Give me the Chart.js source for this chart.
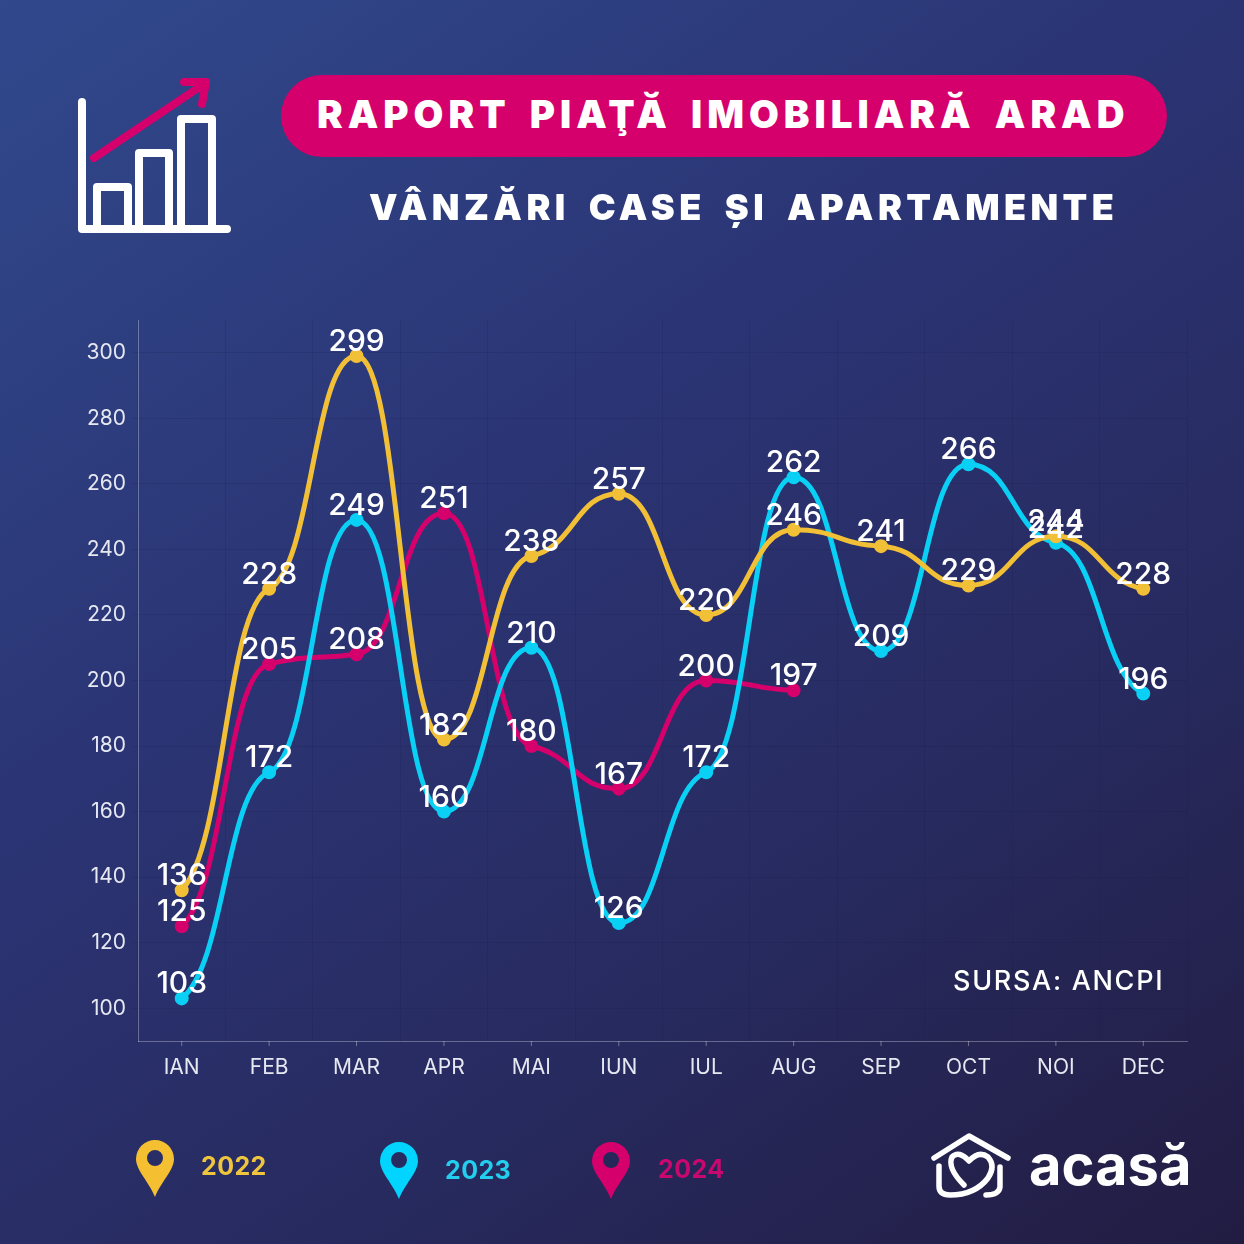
<!DOCTYPE html>
<html lang="ro">
<head>
<meta charset="utf-8">
<title>Raport piață imobiliară Arad</title>
<script src="https://cdn.jsdelivr.net/npm/chart.js@4"></script>
<style>
  html, body { margin: 0; padding: 0; }
  body {
    position: relative; width: 1244px; height: 1244px; overflow: hidden;
    background: linear-gradient(145deg, #30498c 0%, #2b3474 40%, #272a5e 70%, #221c42 100%);
    font-family: Inter, "Noto Sans", sans-serif; color: #fff;
  }
  #chart { position: absolute; left: 0; top: 0; }
  .abs { position: absolute; white-space: nowrap; }
  #pill { left: 281px; top: 75px; width: 886px; height: 82px; border-radius: 41px; background: #d6006c; }
  #title { left: 317px; top: 91px; font-size: 38.5px; line-height: 47px; font-weight: 900; letter-spacing: 5px; word-spacing: 6.5px; }
  #subtitle { left: 369px; top: 184px; font-size: 36px; line-height: 46px; font-weight: 900; letter-spacing: 4.4px; word-spacing: 7.5px; }
  #source { left: 953px; top: 964px; font-size: 27px; line-height: 34px; font-weight: 500; letter-spacing: 1.7px; }
  .year { font-size: 25px; line-height: 32px; font-weight: 700; letter-spacing: 0.4px; }
  #brand { left: 1029px; top: 1133px; font-size: 56px; line-height: 64px; font-weight: 700; }
</style>
</head>
<body>
<canvas id="chart" width="1244" height="1244"></canvas>

<svg class="abs" style="left:0;top:0" width="1244" height="1244" fill="none">
  <!-- bars icon -->
  <g stroke="#fff" stroke-width="8" stroke-linecap="round" stroke-linejoin="round">
    <path d="M82 102V229H227"/>
    <path d="M97 229V187H128V229"/>
    <path d="M139 229V153H169V229"/>
    <path d="M181 229V119H212V229"/>
  </g>
  <g stroke="#d6006c" stroke-width="8" stroke-linecap="round" stroke-linejoin="round">
    <path d="M94 158L204 84"/>
    <path d="M184 82H206L202 104"/>
  </g>
  <!-- legend pins -->
  <path fill="#f5bf32" fill-rule="evenodd" d="M155 1197C149 1182 136 1170 136 1159A19 19 0 0 1 174 1159C174 1170 161 1182 155 1197ZM155 1150A8 8 0 1 0 155 1166A8 8 0 1 0 155 1150Z"/>
  <path fill="#00d4ff" fill-rule="evenodd" d="M399 1199C393 1184 380 1172 380 1161A19 19 0 0 1 418 1161C418 1172 405 1184 399 1199ZM399 1152A8 8 0 1 0 399 1168A8 8 0 1 0 399 1152Z"/>
  <path fill="#d6006c" fill-rule="evenodd" d="M611 1199C605 1184 592 1172 592 1161A19 19 0 0 1 630 1161C630 1172 617 1184 611 1199ZM611 1152A8 8 0 1 0 611 1168A8 8 0 1 0 611 1152Z"/>
  <!-- house logo -->
  <g stroke="#fff" stroke-width="5.5" stroke-linecap="round" stroke-linejoin="round">
    <path d="M934 1158L969 1136L1008 1158"/>
    <path d="M939 1166V1186Q939 1195 950 1195Q975 1195 988 1178Q996 1166 988 1157Q979 1150 969 1161Q959 1150 952 1157Q947 1168 964 1185"/>
    <path d="M1000 1167V1187Q999 1195 986 1195"/>
  </g>
</svg>

<div class="abs" id="pill"></div>
<div class="abs" id="title">RAPORT PIAŢĂ IMOBILIARĂ ARAD</div>
<div class="abs" id="subtitle">VÂNZĂRI CASE ȘI APARTAMENTE</div>
<div class="abs" id="source">SURSA: ANCPI</div>
<div class="abs year" style="left:201px;top:1150px;color:#f0c53e">2022</div>
<div class="abs year" style="left:445px;top:1154px;color:#22cdee">2023</div>
<div class="abs year" style="left:658px;top:1153px;color:#c8086f">2024</div>
<div class="abs" id="brand">acasă</div>

<script>
var months = ["IAN", "FEB", "MAR", "APR", "MAI", "IUN", "IUL", "AUG", "SEP", "OCT", "NOI", "DEC"]
var sales2022 = [136, 228, 299, 182, 238, 257, 220, 246, 241, 229, 244, 228]
var sales2023 = [103, 172, 249, 160, 210, 126, 172, 262, 209, 266, 242, 196]
var sales2024 = [125, 205, 208, 251, 180, 167, 200, 197, null, null, null, null]
var yTicks = [100, 120, 140, 160, 180, 200, 220, 240, 260, 280, 300]

function makeSeries(label, values, color) {
  return {
    label: label,
    data: values,
    borderColor: color,
    backgroundColor: color,
    borderWidth: 5,
    pointRadius: 4.5,
    pointHoverRadius: 4.5,
    tension: 0.4,
    clip: false
  }
}

//The original curve is almost flat at each point, with wide handles
var flatCurves = {
  id: "flatCurves",
  beforeDatasetDraw: function (chart, args) {
    var line = args.meta.dataset
    if (line.flattened) return
    line.updateControlPoints(chart.chartArea)
    var points = line.points.filter(function (p) { return !p.skip })
    points.forEach(function (p, i) {
      var prev = points[i - 1]
      var next = points[i + 1]
      var slope = 0
      if (!prev) slope = 0.3 * (next.y - p.y) / (next.x - p.x)
      else if (!next) slope = 0.3 * (p.y - prev.y) / (p.x - prev.x)
      else if ((next.y - p.y) * (p.y - prev.y) > 0) slope = 0.15 * (next.y - prev.y) / (next.x - prev.x)
      if (prev) {
        p.cp1x = p.x - (p.x - prev.x) / 2
        p.cp1y = p.y - slope * (p.x - prev.x) / 2
      }
      if (next) {
        p.cp2x = p.x + (next.x - p.x) / 2
        p.cp2y = p.y + slope * (next.x - p.x) / 2
      }
    })
    line.flattened = true
  }
}

//Value labels above every point
var valueLabels = {
  id: "valueLabels",
  afterDatasetsDraw: function (chart) {
    var ctx = chart.ctx
    ctx.save()
    ctx.font = "500 30px Inter, sans-serif"
    ctx.fillStyle = "#fff"
    ctx.textAlign = "center"
    ctx.textBaseline = "middle"
    chart.data.datasets.forEach(function (dataset, d) {
      chart.getDatasetMeta(d).data.forEach(function (point, i) {
        if (dataset.data[i] !== null) {
          ctx.fillText(dataset.data[i], point.x, point.y - 14)
        }
      })
    })
    ctx.restore()
  }
}

//Tick marks sit on the month centres while the grid sits between months
var monthTicks = {
  id: "monthTicks",
  afterDraw: function (chart) {
    var ctx = chart.ctx
    var x = chart.scales.x
    ctx.save()
    ctx.strokeStyle = "rgba(255,255,255,0.35)"
    ctx.lineWidth = 1
    x.ticks.forEach(function (tick, i) {
      var px = x.getPixelForTick(i)
      ctx.beginPath()
      ctx.moveTo(px, x.top)
      ctx.lineTo(px, x.top + 5)
      ctx.stroke()
    })
    ctx.restore()
  }
}

new Chart(document.getElementById("chart"), {
  type: "line",
  data: {
    labels: months,
    datasets: [
      makeSeries("2022", sales2022, "#f2c037"),
      makeSeries("2023", sales2023, "#0ad0f5"),
      makeSeries("2024", sales2024, "#d6006c")
    ]
  },
  options: {
    responsive: false,
    animation: false,
    layout: { padding: { top: 320, right: 57, left: 0, bottom: 0 } },
    plugins: { legend: { display: false }, tooltip: { enabled: false } },
    scales: {
      x: {
        offset: true,
        afterFit: function (scale) { scale.height = 203 },
        grid: { offset: true, color: "rgba(15,20,60,0.12)", tickLength: 0 },
        border: { color: "rgba(255,255,255,0.3)" },
        ticks: {
          color: "#e6e8f2",
          padding: 14,
          maxRotation: 0,
          font: { family: "Inter", size: 21 }
        }
      },
      y: {
        min: 90,
        max: 310,
        afterFit: function (scale) { scale.width = 138 },
        afterBuildTicks: function (scale) {
          scale.ticks = yTicks.map(function (v) { return { value: v } })
        },
        grid: { color: "rgba(15,20,60,0.12)", tickLength: 6 },
        border: { color: "rgba(255,255,255,0.3)" },
        ticks: {
          color: "#e6e8f2",
          padding: 6,
          font: { family: "Inter", size: 21 }
        }
      }
    }
  },
  plugins: [flatCurves, valueLabels, monthTicks]
})
</script>
</body>
</html>
